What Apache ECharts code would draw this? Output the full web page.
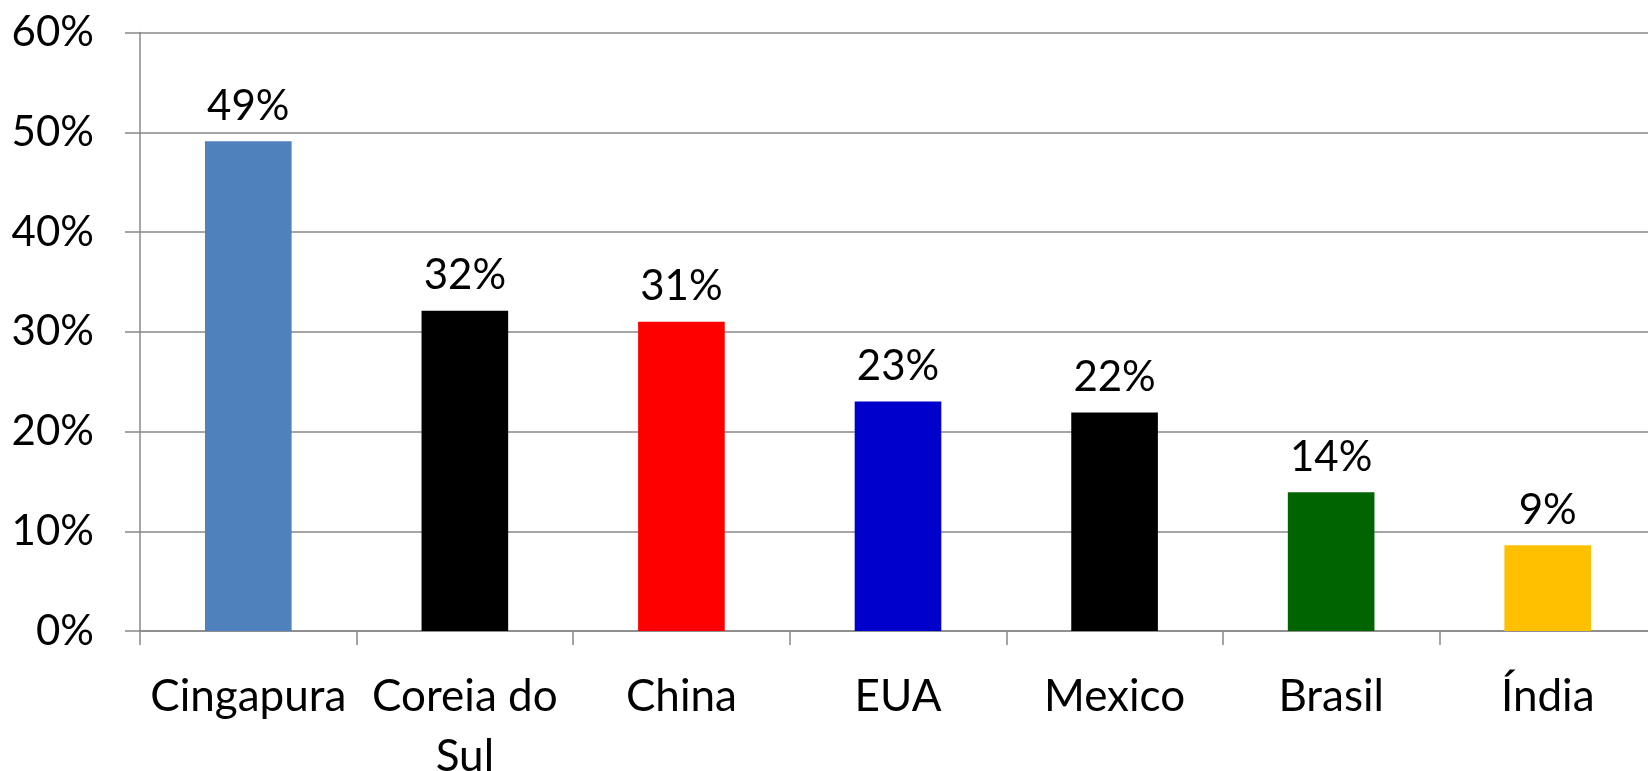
<!DOCTYPE html>
<html>
<head>
<meta charset="utf-8">
<script src="https://cdn.jsdelivr.net/npm/echarts@6/dist/echarts.min.js"></script>
<style>
html,body{margin:0;padding:0;background:#fff;overflow:hidden;}
#chart{width:1648px;height:771px;}
</style>
</head>
<body>
<div id="chart"></div>
<script>
const categories = ['Cingapura', 'Coreia do\nSul', 'China', 'EUA', 'Mexico', 'Brasil', 'Índia'];
const values = [0.491, 0.321, 0.310, 0.230, 0.219, 0.139, 0.086];
const barColors = ['#4F81BD', '#000000', '#FF0000', '#0000CC', '#000000', '#006400', '#FFC000'];
const yTicks = { min: 0, max: 0.6, interval: 0.1 };

const FONT = 'Lato';
const chart = echarts.init(document.getElementById('chart'), null, { renderer: 'canvas' });
chart.setOption({
  animation: false,
  backgroundColor: '#ffffff',
  grid: { left: 140, right: -8, top: 32.5, bottom: 140, containLabel: false, outerBoundsMode: 'none' },
  xAxis: {
    type: 'category',
    data: categories,
    axisLine: { show: true, lineStyle: { color: '#888888', width: 1.5 } },
    axisTick: { show: true, length: 14, lineStyle: { color: '#888888', width: 1.5 } },
    axisLabel: {
      color: '#000', fontFamily: FONT, fontSize: 44, lineHeight: 60, margin: 36, interval: 0
    }
  },
  yAxis: {
    type: 'value',
    min: yTicks.min, max: yTicks.max, interval: yTicks.interval,
    axisLine: { show: true, lineStyle: { color: '#888888', width: 1.5 } },
    axisTick: { show: true, inside: false, length: 15, lineStyle: { color: '#888888', width: 1.5 } },
    splitLine: { show: true, lineStyle: { color: '#888888', width: 1.5 } },
    axisLabel: {
      color: '#000', fontFamily: FONT, fontSize: 42, margin: 46,
      formatter: v => Math.round(v * 100) + '%'
    }
  },
  series: [{
    type: 'bar',
    barWidth: '40%',
    data: values.map((v, i) => ({ value: v, itemStyle: { color: barColors[i] } })),
    label: {
      show: true, position: 'top', distance: 14,
      color: '#000', fontFamily: FONT, fontSize: 42,
      formatter: p => Math.round(p.value * 100) + '%'
    }
  }]
});
</script>
</body>
</html>
